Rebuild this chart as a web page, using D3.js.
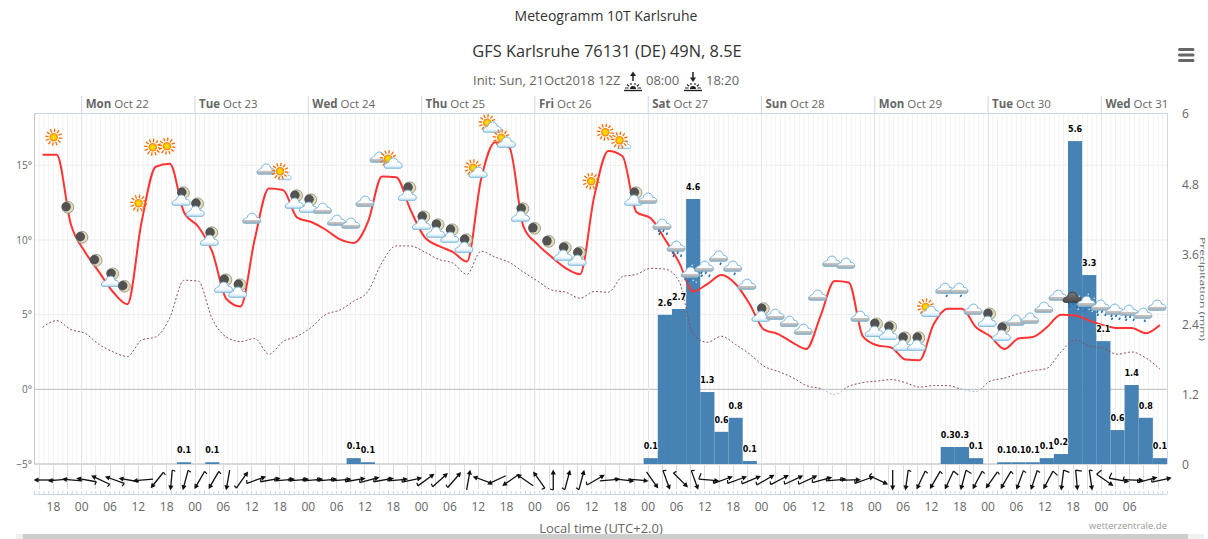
<!DOCTYPE html>
<html><head><meta charset="utf-8">
<script src="https://cdnjs.cloudflare.com/ajax/libs/d3/7.8.5/d3.min.js"></script>
<style>
html,body{margin:0;padding:0;background:#fff;overflow:hidden}
svg{display:block}
text{font-family:"Open Sans",sans-serif}
</style></head><body><svg id="c" width="1208" height="539"></svg>
<script>
const forecastSteps = d3.range(3, 243, 3);
const temperature = [
15.7,15.7,11.05,9.2,7.85,6.5,5.7,11.2,14.9,15.1,
11.85,10.9,9.2,6.05,5.55,10.05,13.45,13.35,11.5,11.2,
10.7,10.05,9.8,11.2,14.25,14.2,12.05,10.2,9.6,9.2,
8.55,14.05,16.55,16.2,10.9,9.7,8.85,8.1,7.7,12.9,
15.95,15.6,11.85,11.45,10.05,8.5,6.55,7.05,7.65,7.05,
5.7,4.0,3.7,3.15,2.7,4.9,7.25,7.15,3.55,2.95,
2.8,2.0,1.95,4.35,5.4,5.4,4.15,3.55,2.7,3.4,
3.5,4.15,5.0,4.95,4.6,4.3,4.1,4.1,3.75,4.3];
const dewPoint = [
4.15,4.6,4.0,3.75,3.0,2.5,2.2,3.3,3.5,4.8,
7.3,7.25,4.7,3.5,3.2,3.4,2.35,3.2,3.55,4.15,
5.0,5.3,5.9,6.55,8.5,9.6,9.6,9.2,8.7,8.45,
7.7,9.25,8.85,8.5,7.85,7.25,6.65,6.5,6.1,6.55,
6.5,7.55,7.7,8.1,8.05,7.25,3.7,3.15,3.55,3.0,
2.35,1.55,1.2,0.8,0.25,0.05,-0.35,0.2,0.45,0.55,
0.65,0.45,0.15,0.25,0.25,0,-0.15,0.55,0.75,1.05,
1.25,1.4,2.5,3.3,2.9,2.75,2.35,2.5,2.1,1.35];
const precipitation = [
0,0,0,0,0,0,0,0,0,0,
0.03,0,0.03,0,0,0,0,0,0,0,
0,0,0.1,0.03,0,0,0,0,0,0,
0,0,0,0,0,0,0,0,0,0,
0,0,0,0.1,2.55,2.65,4.53,1.23,0.55,0.79,
0.05,0,0,0,0,0,0,0,0,0,
0,0,0,0,0.29,0.29,0.1,0,0.03,0.03,
0.03,0.1,0.17,5.52,3.23,2.1,0.58,1.35,0.79,0.1];
const windDirection = [
270,265,275,280,295,290,280,265,219,185,
195,210,210,190,35,70,80,85,85,85,
85,85,80,75,80,85,78,54,48,41,
10,290,245,235,305,325,0,15,15,60,
85,97,95,145,160,135,160,95,70,70,
67,60,62,65,65,75,85,88,70,115,
180,188,205,210,205,195,208,215,210,200,
198,208,187,175,172,125,100,92,75,78];
const windBarb = [
0,0,0,1,1,1,0,0,1,1,
1,1,1,0,1,1,1,1,1,1,
1,1,1,1,1,1,1,1,1,1,
0,0,0,0,0,1,1,1,1,1,
0,0,0,0,1,1,1,2,1,1,
1,1,1,1,1,1,1,1,1,1,
0,1,1,1,2,2,1,1,1,1,
1,2,2,2,1,2,2,1,1,1];
const skyType = [
null,"S","M","M","M","MC","M","S","S","S",
"MC","MC","MC","MC","MC","C","C","SX","MC","MC",
"C","C","C","C","C","SC","MC","MC","MC","MC",
"MC","SC","SC","SC","MC","M","M","MC","MC","S",
"S","SX","MC","C","R","R","W","R","r","r",
"C","MC","C","C","C","C","C","C","C","MC",
"MC","MC","MC","SC","r","r","C","MC","MC","C",
"C","C","C","D","W","R","R","R","r","C"];
const skyLevel = [
null,16.88,12.19,10.18,8.64,7.23,6.9,12.46,16.21,16.28,
12.66,11.92,9.98,6.83,6.5,11.45,14.74,14.6,12.46,12.19,
12.12,11.32,11.12,12.59,15.54,15.14,12.99,11.05,10.52,10.18,
9.51,14.53,17.55,16.54,11.59,10.78,9.91,8.98,8.64,13.93,
17.21,16.68,12.66,12.79,11.05,9.58,7.84,8.24,8.91,8.24,
7.03,4.89,5.02,4.55,4.02,6.3,8.57,8.44,4.89,3.88,
3.68,2.95,2.95,5.22,6.76,6.76,5.36,4.55,3.62,4.62,
4.76,5.49,6.3,6.16,5.89,5.63,5.36,5.29,5.09,5.63];
const tempTicks = [-5,0,5,10,15];
const precipTicks = [0,1.2,2.4,3.6,4.8,6];
const dayNames = ["Sun","Mon","Tue","Wed","Thu","Fri","Sat"];
const monthName = "Oct";
const hourLabelStep = 6;
const titleText = "Meteogramm 10T Karlsruhe";
const subtitleText = "GFS Karlsruhe 76131 (DE) 49N, 8.5E";
const initText = "Init: Sun, 21Oct2018 12Z";
const sunriseText = "08:00";
const sunsetText = "18:20";
const xAxisTitle = "Local time (UTC+2.0)";
const creditText = "wetterzentrale.de";
const precipAxisTitle = "Precipitation (mm)";

const L=34,R=1167,T=113,B=464,WB=494;
const svg=d3.select("#c");
const defs=svg.append("defs");
const xTime=d3.scaleUtc().domain([Date.UTC(2018,9,21,14),Date.UTC(2018,9,31,14)]).range([L,R]);
const xBand=d3.scaleBand().domain(forecastSteps).range([35.5,R]).paddingInner(0).paddingOuter(0);
const xMid=i=>xBand(forecastSteps[i])+xBand.bandwidth()/2;
const yT=d3.scaleLinear().domain([-5,18.5]).range([B,T]);
const yP=d3.scaleLinear().domain([0,6]).range([B,T]);

// gradients
const gg=defs.append("linearGradient").attr("id","cg").attr("x1",0).attr("x2",0).attr("y1",0).attr("y2",1);
[[0,"#f6fbff"],[.62,"#ffffff"],[.72,"#c4c4c4"],[1,"#a8a8a8"]].forEach(s=>gg.append("stop").attr("offset",s[0]).attr("stop-color",s[1]));
const gb=defs.append("linearGradient").attr("id","cb").attr("x1",0).attr("x2",0).attr("y1",0).attr("y2",1);
[[0,"#ffffff"],[.6,"#ffffff"],[1,"#c4e2f5"]].forEach(s=>gb.append("stop").attr("offset",s[0]).attr("stop-color",s[1]));
const gd=defs.append("linearGradient").attr("id","cd").attr("x1",0).attr("x2",0).attr("y1",0).attr("y2",1);
[[0,"#7a7a7a"],[1,"#4a4a4a"]].forEach(s=>gd.append("stop").attr("offset",s[0]).attr("stop-color",s[1]));
const gs=defs.append("radialGradient").attr("id","sg");
[[0,"#ffe600"],[.55,"#ffc800"],[1,"#ff7a00"]].forEach(s=>gs.append("stop").attr("offset",s[0]).attr("stop-color",s[1]));
defs.append("clipPath").attr("id","abv").append("rect").attr("x",L).attr("y",T).attr("width",R-L).attr("height",yT(0)-T);
defs.append("clipPath").attr("id","blw").append("rect").attr("x",L).attr("y",yT(0)).attr("width",R-L).attr("height",B-yT(0));

// titles
svg.append("text").attr("x",606).attr("y",21).attr("text-anchor","middle").attr("font-size",14).attr("fill","#333").text(titleText);
svg.append("text").attr("x",607).attr("y",57).attr("text-anchor","middle").attr("font-size",16.4).attr("fill","#333").text(subtitleText);
const sub=svg.append("g").attr("fill","#666").attr("font-size",13);
sub.append("text").attr("x",473).attr("y",85).text(initText);
sub.append("text").attr("x",646).attr("y",85).text(sunriseText);
sub.append("text").attr("x",706).attr("y",85).text(sunsetText);
function riseIcon(cx,up){
  const g=svg.append("g").attr("transform",`translate(${cx},0)`).attr("stroke","#222").attr("fill","none");
  g.append("line").attr("x1",-9).attr("x2",9).attr("y1",90.5).attr("y2",90.5).attr("stroke-width",1.4);
  g.append("path").attr("d","M-8,88H-4.5M4.5,88H8M-6,84.5L-3.8,86.2M6,84.5L3.8,86.2M-2,83V85M2,83V85").attr("stroke-width",1.1);
  g.append("path").attr("d","M-3,89A3,3 0 0 1 3,89Z").attr("fill","#222").attr("stroke","none");
  g.append("line").attr("x1",0).attr("x2",0).attr("y1",up?75:72).attr("y2",up?81:78).attr("stroke-width",1.5);
  g.append("path").attr("fill","#222").attr("stroke","none").attr("d",up?"M-3,76L0,71.5L3,76Z":"M-3,77.5L0,82L3,77.5Z");
}
riseIcon(633,true);riseIcon(693,false);

// hamburger
svg.append("path").attr("d","M1179.5,49.5H1193M1179.5,55H1193M1179.5,60.5H1193").attr("stroke","#666").attr("stroke-width",3).attr("stroke-linecap","round");

// grid: hourly minor
const minorHours=d3.utcHour.range(new Date(Date.UTC(2018,9,21,14)),new Date(Date.UTC(2018,9,31,15)));
svg.append("g").selectAll("line").data(minorHours).join("line")
  .attr("x1",d=>xTime(d)+.5).attr("x2",d=>xTime(d)+.5).attr("y1",T).attr("y2",B).attr("stroke","#f2f2f2");
// horizontal grid
svg.append("g").selectAll("line").data(tempTicks).join("line")
  .attr("x1",L).attr("x2",R).attr("y1",d=>yT(d)).attr("y2",d=>yT(d))
  .attr("stroke",d=>d===0?"#bbbbbb":(d===-5?"#cccccc":"#eeeeee")).attr("stroke-width",d=>d===-5?1.5:1);
// day lines
const days=d3.utcDay.range(new Date(Date.UTC(2018,9,22)),new Date(Date.UTC(2018,9,31,14)));
svg.append("g").selectAll("line").data(days).join("line")
  .attr("x1",d=>Math.round(xTime(d))+.5).attr("x2",d=>Math.round(xTime(d))+.5).attr("y1",T).attr("y2",B).attr("stroke","#e4e4e4");
// frame
svg.append("path").attr("d",`M${L+.5},${B}V${T+.5}H${R+.5}V${B}`).attr("fill","none").attr("stroke","#ccd6eb");
svg.append("line").attr("x1",L).attr("x2",L).attr("y1",T).attr("y2",B).attr("transform","translate(.5,0)").attr("stroke","#c8c8c8");

// top axis
const topAxis=d3.axisTop(xTime).tickValues(days).tickSize(17).tickFormat("");
const topG=svg.append("g").attr("transform",`translate(0,${T})`).call(topAxis);
topG.select(".domain").remove();
topG.selectAll("line").attr("stroke","#ccd6eb");
const dayLab=svg.append("g").attr("font-size",11.5).attr("fill","#666");
days.forEach(d=>{
  const t=dayLab.append("text").attr("x",xTime(d)+4.5).attr("y",108);
  t.append("tspan").attr("font-weight","bold").text(dayNames[d.getUTCDay()]);
  t.append("tspan").text(" "+monthName+" "+d.getUTCDate());
});

// left axis
const lAxis=d3.axisLeft(yT).tickValues(tempTicks).tickSize(0).tickPadding(2).tickFormat(d=>(d<0?"\u2212"+(-d):d)+"\u00b0");
const lG=svg.append("g").attr("transform",`translate(${L},0)`).call(lAxis);
lG.select(".domain").remove();
lG.selectAll("text").attr("font-size",10).attr("fill","#666").style("font-family",'"Open Sans",sans-serif');
// right axis
const rAxis=d3.axisRight(yP).tickValues(precipTicks).tickSize(0).tickPadding(15).tickFormat(d=>d);
const rG=svg.append("g").attr("transform",`translate(${R},1)`).call(rAxis);
rG.select(".domain").remove();
rG.selectAll("text").attr("font-size",12).attr("fill","#666").style("font-family",'"Open Sans",sans-serif');
svg.append("text").attr("transform","translate(1199.5,237) rotate(90)").attr("font-size",7.5)
  .attr("textLength",104).attr("lengthAdjust","spacingAndGlyphs").attr("fill","#666").text(precipAxisTitle);

// bars
svg.append("g").selectAll("rect").data(precipitation.map((v,i)=>({v,i})).filter(d=>d.v>0)).join("rect")
  .attr("x",d=>xBand(forecastSteps[d.i])).attr("width",xBand.bandwidth())
  .attr("y",d=>yP(d.v)).attr("height",d=>yP(0)-yP(d.v)).attr("fill","#4682b4");

// lines
const lineOf=d3.line().x((d,i)=>xMid(i)).y(d=>yT(d)).curve(d3.curveMonotoneX);
svg.append("path").attr("d",lineOf(dewPoint)).attr("fill","none").attr("stroke","#8b4f5a").attr("stroke-width",1).attr("stroke-dasharray","2,2").attr("clip-path","url(#abv)");
svg.append("path").attr("d",lineOf(dewPoint)).attr("fill","none").attr("stroke","#9cc3e6").attr("stroke-width",1).attr("stroke-dasharray","2,2").attr("clip-path","url(#blw)");
svg.append("path").attr("d",lineOf(temperature)).attr("fill","none").attr("stroke","#ff3333").attr("stroke-width",2);

// sky icons
const CLOUD="M-7.5,5C-9.5,5 -9.5,1 -7,0.5C-6,-0.5 -5,-0.5 -4.5,-0.8C-4,-4 -1.5,-5.2 0.5,-5.2C3,-5.2 4.5,-3.5 4.8,-1C7,-1.2 9,0.5 9,2.5C9,4 8.2,5 7,5Z";
function drawCloud(g,x,y,fill,s){
  g.append("path").attr("transform",`translate(${x},${y}) scale(${s||1})`).attr("d",CLOUD).attr("fill",`url(#${fill})`).attr("stroke",fill==="cd"?"#3d3d3d":"#79b6d8").attr("stroke-width",1);
}
function drawMoon(g,x,y){
  g.append("circle").attr("cx",x).attr("cy",y).attr("r",5.9).attr("fill","#e0dbb8").attr("stroke","#8d8d80").attr("stroke-width",.8);
  g.append("circle").attr("cx",x-1.7).attr("cy",y-.5).attr("r",4.7).attr("fill","#525252");
}
function drawSun(g,x,y){
  d3.range(12).forEach(k=>{
    const a=k*Math.PI/6+.13;
    g.append("line").attr("x1",x+5.2*Math.cos(a)).attr("y1",y+5.2*Math.sin(a)).attr("x2",x+8.6*Math.cos(a)).attr("y2",y+8.6*Math.sin(a)).attr("stroke","#ff6a00").attr("stroke-width",1.3);
  });
  g.append("circle").attr("cx",x).attr("cy",y).attr("r",4.2).attr("fill","url(#sg)");
}
function drawDrops(g,x,y,pts,c){
  pts.forEach(p=>g.append("line").attr("x1",x+p[0]+.6).attr("y1",y+p[1]-1.1).attr("x2",x+p[0]-.5).attr("y2",y+p[1]+1.1).attr("stroke",c||"#1f6fae").attr("stroke-width",1.6));
}
const many=[[-3,6.5],[1.5,6.5],[-2.5,9.5],[5,9.5]], few=[[2,7.5]];
const wet=[[-5,7],[-1,8],[-3,10]];
const sky=svg.append("g");
skyType.forEach((t,i)=>{
  if(!t)return;
  const x=xMid(i)-3,y=yT(skyLevel[i]),g=sky.append("g");
  if(t==="S")drawSun(g,x,y);
  else if(t==="M")drawMoon(g,x,y);
  else if(t==="MC"){drawMoon(g,x+2.5,y-7.5);drawCloud(g,x,y,"cb");}
  else if(t==="C")drawCloud(g,x,y,"cg");
  else if(t==="SC"){drawSun(g,x-5,y-4.5);drawCloud(g,x,y,"cb");}
  else if(t==="SX"){drawCloud(g,x+5,y+5,"cb",.7);drawSun(g,x,y);}
  else if(t==="R"){drawCloud(g,x,y,"cg");drawDrops(g,x,y,many);}
  else if(t==="r"){drawCloud(g,x,y,"cg");drawDrops(g,x,y,few);}
  else if(t==="W"){drawCloud(g,x,y,"cg");drawDrops(g,x,y,wet,"#2a78b8");
    [[-8,8],[3,8],[6,10],[-7,-5],[2,-7],[8,-3]].forEach(p=>g.append("circle").attr("cx",x+p[0]).attr("cy",y+p[1]).attr("r",.8).attr("fill","#dcecf7"));}
  else if(t==="D"){drawCloud(g,x,y,"cd");drawDrops(g,x,y,many);}
});

// bar labels
svg.append("g").selectAll("text").data(precipitation.map((v,i)=>({v,i})).filter(d=>d.v>0)).join("text")
  .attr("x",d=>xMid(d.i)).attr("y",d=>yP(d.v)-9).attr("text-anchor","middle")
  .style("font-family",'"DejaVu Sans",sans-serif').attr("font-size",8).attr("font-weight","bold").attr("fill","#000")
  .attr("stroke","#fff").attr("stroke-width",1.5).attr("paint-order","stroke")
  .text(d=>(Math.ceil(d.v*10-1e-9)/10).toFixed(1));

// wind strip
const threeH=d3.utcHour.every(3).range(new Date(Date.UTC(2018,9,21,15)),new Date(Date.UTC(2018,9,31,14)));
svg.append("g").selectAll("line").data(threeH).join("line")
  .attr("x1",d=>Math.round(xTime(d))+.5).attr("x2",d=>Math.round(xTime(d))+.5).attr("y1",B).attr("y2",489).attr("stroke","#dcdcdc");
svg.append("line").attr("x1",L).attr("x2",R).attr("y1",WB+.5).attr("y2",WB+.5).attr("stroke","#ccd6eb");
svg.append("g").selectAll("line").data(minorHours).join("line")
  .attr("x1",d=>xTime(d)+.5).attr("x2",d=>xTime(d)+.5).attr("y1",WB-3).attr("y2",WB).attr("stroke","#ccd6eb");
const windG=svg.append("g").attr("stroke","#111").attr("fill","#111");
windDirection.forEach((a,i)=>{
  const g=windG.append("g").attr("transform",`translate(${xMid(i)+1.5},480) rotate(${a})`);
  g.append("line").attr("x1",0).attr("y1",-8).attr("x2",0).attr("y2",10).attr("stroke-width",1.3);
  g.append("path").attr("d","M-2.6,-5.6L0,-10.5L2.6,-5.6Z").attr("stroke","none");
  if(windBarb[i]) g.append("path").attr("d",`M0,10L${windBarb[i]===2?-6:-3.2},${windBarb[i]===2?8.4:9}`).attr("fill","none").attr("stroke-width",1.2);
});

// bottom axis
const hourTicks=threeH.filter(d=>d.getUTCHours()%hourLabelStep===0 && d<Date.UTC(2018,9,31,12));
const bAxis=d3.axisBottom(xTime).tickValues(hourTicks).tickSize(0).tickPadding(8).tickFormat(d=>String(d.getUTCHours()).padStart(2,"0"));
const bG=svg.append("g").attr("transform",`translate(0,${WB})`).call(bAxis);
bG.select(".domain").remove();
bG.selectAll("text").attr("font-size",12).attr("fill","#666").style("font-family",'"Open Sans",sans-serif');
svg.append("text").attr("x",601).attr("y",533).attr("text-anchor","middle").attr("font-size",13).attr("fill","#666").text(xAxisTitle);
svg.append("text").attr("x",1167).attr("y",529).attr("text-anchor","end").attr("font-size",9.5).attr("fill","#999").text(creditText);

// scrollbar strip
svg.append("rect").attr("x",0).attr("y",534).attr("width",1208).attr("height",5).attr("fill","#fff");
svg.append("rect").attr("x",16).attr("y",534).attr("width",1188).attr("height",5).attr("fill","#f1f1f1");
svg.append("rect").attr("x",23).attr("y",534).attr("width",1165).attr("height",5).attr("fill","#cdcdcd");
</script></body></html>
